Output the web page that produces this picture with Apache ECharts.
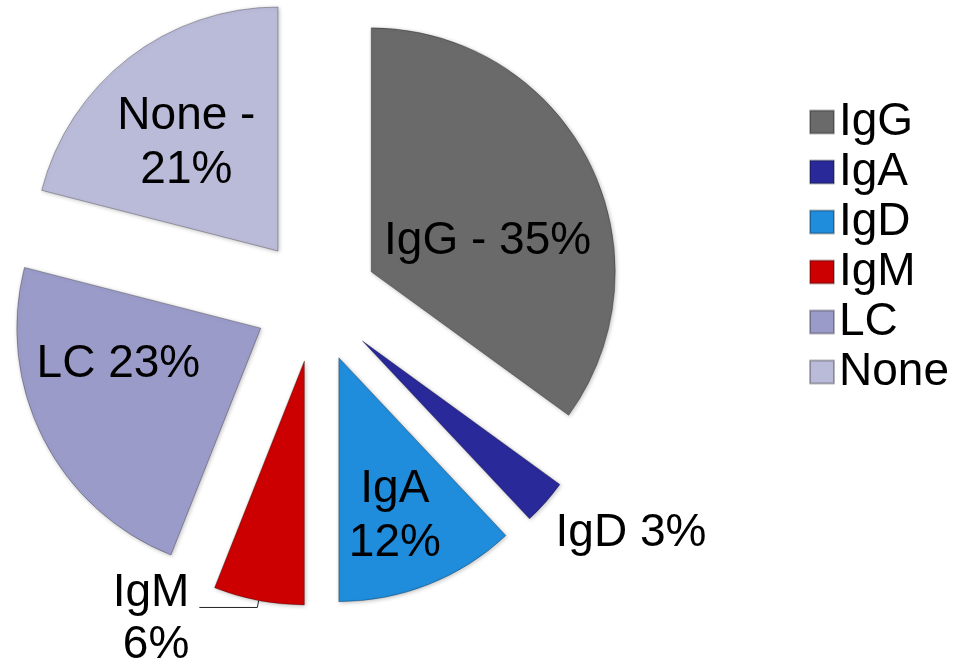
<!DOCTYPE html>
<html>
<head>
<meta charset="utf-8">
<title>Ig types</title>
<script src="https://cdn.jsdelivr.net/npm/echarts@6/dist/echarts.min.js"></script>
<style>
  html, body { margin: 0; padding: 0; background: #fff; }
  #chart { width: 959px; height: 666px; }
</style>
</head>
<body>
<div id="chart"></div>
<script>
// data
const categories = ['IgG', 'IgA', 'IgD', 'IgM', 'LC', 'None'];
const values = [35, 3, 12, 6, 23, 21];
// labels as printed on the slices
const sliceLabels = ['IgG - 35%', 'IgD 3%', 'IgA\n12%', 'IgM\n6%', 'LC 23%', 'None -\n21%'];
const sliceColors = ['#6a6a6a', '#29299a', '#1f8ddb', '#cc0000', '#9b9bc9', '#babad9'];

// label nudges (dx, dy) from the default spot
const labelNudge = [[5, 26], [5, 31], [10, 42], [-5, 12], [-31, -21], [-15, -9]];
const outsideLabel = [false, true, false, true, false, false];

const FONT = '"Liberation Sans", Arial, sans-serif';

const chart = echarts.init(document.getElementById('chart'));

const pieData = categories.map(function (name, i) {
  const item = {
    name: name,
    value: values[i],
    selected: true,
    itemStyle: { color: sliceColors[i] },
    label: {
      position: outsideLabel[i] ? 'outside' : 'inside',
      formatter: sliceLabels[i]
    }
  };
  if (name === 'IgA') {
    // small slice: label sits beside it, no line
    item.labelLine = { show: false, length: 0, length2: 0 };
  }
  if (name === 'IgM') {
    item.labelLine = { show: true, length: 7, length2: 58 };
    item.label.lineHeight = 52;
  }
  return item;
});

const option = {
  animation: false,
  backgroundColor: '#ffffff',
  legend: {
    orient: 'vertical',
    left: 804,
    top: 94,
    icon: 'rect',
    itemWidth: 24,
    itemHeight: 23,
    itemGap: 4,
    itemTextGap: 11,
    selectedMode: false,
    textStyle: { fontFamily: FONT, fontSize: 46, lineHeight: 46, color: '#000' },
    data: categories
  },
  series: [
    {
      type: 'pie',
      center: [316, 300],
      radius: 244,
      startAngle: 90,
      clockwise: true,
      selectedMode: 'multiple',
      selectedOffset: 62,
      avoidLabelOverlap: false,
      emphasis: { disabled: true },
      itemStyle: {
        borderColor: 'rgba(0,0,0,0.28)',
        borderWidth: 1,
        shadowBlur: 4,
        shadowColor: 'rgba(0,0,0,0.25)',
        shadowOffsetX: 1,
        shadowOffsetY: 1
      },
      label: {
        fontFamily: FONT,
        fontSize: 46,
        lineHeight: 54,
        color: '#000',
        align: 'center'
      },
      labelLine: {
        lineStyle: { color: '#222', width: 1 },
        smooth: false
      },
      labelLayout: function (params) {
        const s = labelNudge[params.dataIndex];
        return { dx: s[0], dy: s[1] };
      },
      data: pieData
    }
  ]
};

chart.setOption(option);
</script>
</body>
</html>
